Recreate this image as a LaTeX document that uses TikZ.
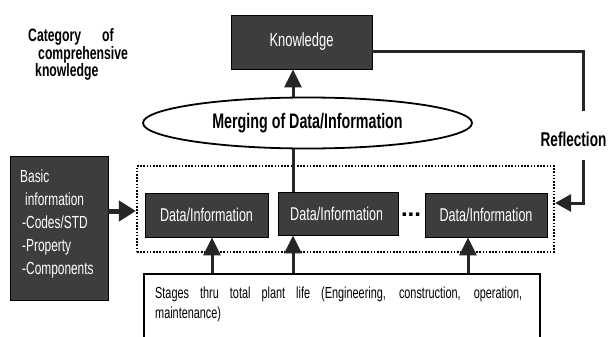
\documentclass[tikz,border=0pt]{standalone}
\usepackage{fontspec}
\setmainfont{Liberation Sans}
\newfontfamily\tallfont{Liberation Sans}[FakeStretch=0.68]
\usetikzlibrary{arrows.meta,shapes.geometric,calc}
\begin{document}
\begin{tikzpicture}[x=1pt,y=-1pt,
  darkbox/.style={draw=black,line width=0.8pt,fill=black!76,text=white,inner sep=0pt},
  link/.style={line width=3pt,draw=black!85},
  uparrow/.style={link,-{Triangle[length=18pt,width=17pt]}},
  sidearrow/.style={link,-{Triangle[length=16pt,width=17pt]}},
  bigarrow/.style={line width=5pt,draw=black!85,-{Triangle[length=17pt,width=20pt]}},
  dotframe/.style={draw=black,line width=2.2pt,dash pattern=on 1.6pt off 1.6pt,inner sep=0pt},
  boxtext/.style={font=\tallfont\fontsize{18.5}{20}\selectfont},
]
\useasboundingbox (0,0) rectangle (614,337);
\clip (0,0) rectangle (614,337);

% heading at the upper left
\node[anchor=north west,align=left,inner sep=0pt,
      font=\tallfont\fontsize{18}{15.5}\selectfont\bfseries] (cat) at (28,28)
  {Category\hspace{21pt}of\\\hspace*{10pt}comprehensive\\\hspace*{7pt}knowledge};

% top level
\node[darkbox,minimum width=141pt,minimum height=54pt,font=\tallfont\fontsize{19}{20}\selectfont] (know) at (301.5,42) {Knowledge};
\node[draw,ellipse,line width=1.8pt,fill=white,minimum width=329pt,minimum height=51pt,inner sep=0pt,
      font=\tallfont\fontsize{21}{22}\selectfont\bfseries] (merge) at (307.5,123) {Merging of Data/Information};

% dotted frame around the data boxes
\node[dotframe,minimum width=417pt,minimum height=86pt] (frame) at (345.5,209) {};

% data boxes
\node[darkbox,minimum width=123pt,minimum height=44pt,boxtext] (d1) at (206.5,215) {Data/Information};
\node[darkbox,minimum width=120pt,minimum height=43pt] (d2) at (338,213.5) {};
\begin{scope}
  \clip (278,190) rectangle (381,238);
  \node[anchor=west,inner sep=0pt,text=white,boxtext] (d2text) at (290,213.5) {Data/Information};
\end{scope}
\node[font=\fontsize{24}{24}\selectfont\bfseries,inner sep=0pt] (dots) at (411,215) {...};
\node[darkbox,minimum width=122pt,minimum height=44pt,boxtext] (d3) at (486,215) {Data/Information};

% basic information
\node[darkbox,minimum width=98pt,minimum height=144pt] (basic) at (59,228) {};
\node[anchor=north west,align=left,inner sep=0pt,text=white,
      font=\tallfont\fontsize{17.5}{23}\selectfont] (basictext) at (20,170)
  {Basic\\\hspace*{5pt}information\\\hspace*{2pt}-Codes/STD\\\hspace*{2pt}-Property\\\hspace*{2pt}-Components};

% plant life stages, open at the bottom
\node[draw,line width=1.5pt,minimum width=396pt,minimum height=90pt,anchor=north west,inner sep=0pt] (stages) at (143,273) {};
\node[anchor=north west,align=left,inner sep=0pt,font=\tallfont\fontsize{16}{20}\selectfont] (stagestext) at (155,287)
  {\makebox[367pt][s]{Stages thru total plant life (Engineering, construction, operation,}\\maintenance)};

% connectors
\coordinate (sx) at (293,0);
\coordinate (a1) at (212,0);
\coordinate (a3) at (468,0);
\coordinate (ba) at (0,211);
\coordinate (kr) at (0,52);
\coordinate (r1) at (583,111);
\coordinate (r2) at (583,160);
\coordinate (fr) at (0,203);

\draw[uparrow] (merge.north -| sx) -- (know.south -| sx);
\draw[link] (d2.north -| sx) -- (merge.south -| sx);
\draw[uparrow] (stages.north -| a1) -- (d1.south -| a1);
\draw[uparrow] (stages.north -| sx) -- (d2.south -| sx);
\draw[uparrow] (stages.north -| a3) -- (d3.south -| a3);
\draw[bigarrow] (basic.east |- ba) -- (frame.west |- ba);

% feedback loop
\draw[link] (know.east |- kr) -| (r1);
\node[font=\tallfont\fontsize{20}{20}\selectfont\bfseries,inner sep=0pt] (refl) at (573.5,139) {Reflection};
\draw[sidearrow] (r2) |- (frame.east |- fr);
\end{tikzpicture}
\end{document}
